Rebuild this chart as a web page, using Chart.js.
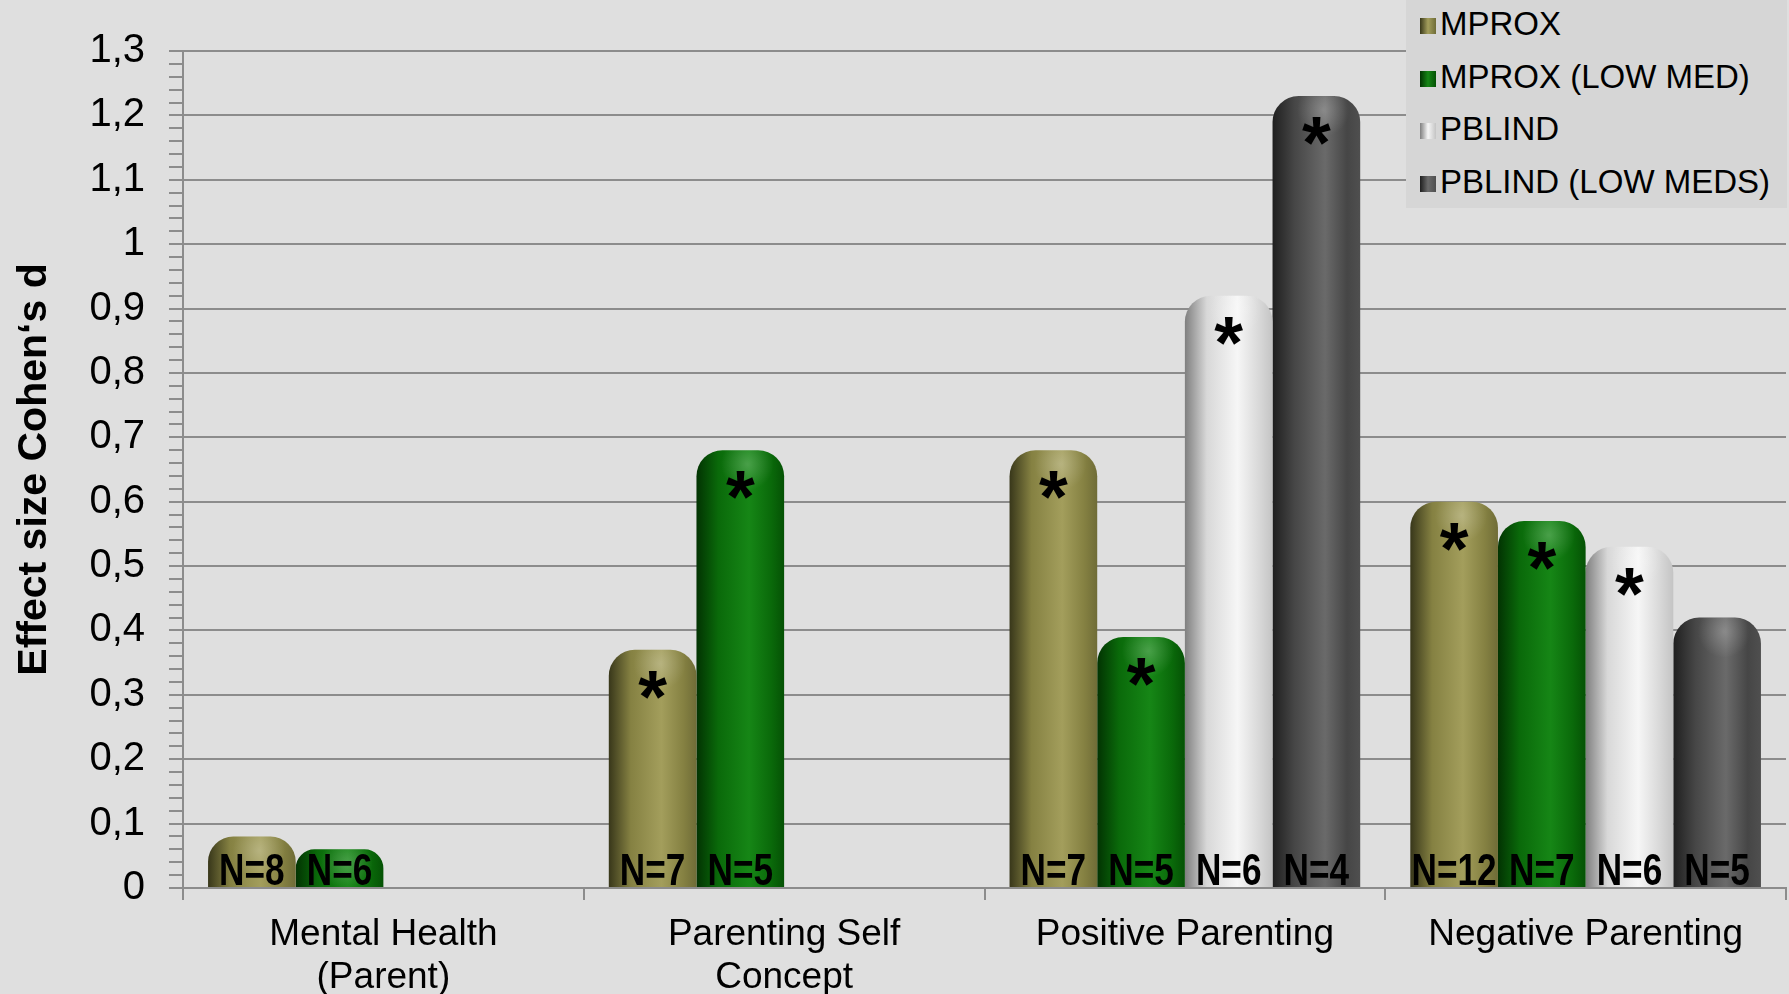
<!DOCTYPE html>
<html lang="en">
<head>
    <meta charset="UTF-8">
    <title>Effect size Cohen's d</title>
    <script src="https://cdn.jsdelivr.net/npm/chart.js"></script>
    <style>
        body {
            margin: 0;
            background: #dfdfdf;
            font-family: "Liberation Sans", Arial, sans-serif;
            overflow: hidden;
        }
        #wrap {
            position: relative;
            width: 1789px;
            height: 994px;
        }
        #legend {
            position: absolute;
            left: 1406px;
            top: 0;
            width: 381px;
            height: 208px;
            background: #d6d6d6;
        }
        .item {
            position: absolute;
            left: 14px;
            font-size: 33px;
            line-height: 36px;
            color: #000;
            white-space: nowrap;
        }
        .item span {
            display: inline-block;
            width: 16px;
            height: 16px;
            margin-right: 4px;
            vertical-align: 1px;
        }
    </style>
</head>
<body>
<div id="wrap">
    <canvas id="effectChart" width="1789" height="994"></canvas>
    <div id="legend"></div>
</div>

<script>
    const categories = [["Mental Health", "(Parent)"], ["Parenting Self", "Concept"], "Positive Parenting", "Negative Parenting"];
    const seriesNames = ["MPROX", "MPROX (LOW MED)", "PBLIND", "PBLIND (LOW MEDS)"];

    const mprox = [0.08, 0.37, 0.68, 0.60];
    const mproxLowMed = [0.06, 0.68, 0.39, 0.57];
    const pblind = [null, null, 0.92, 0.53];
    const pblindLowMeds = [null, null, 1.23, 0.42];

    const mproxN = ["N=8", "N=7", "N=7", "N=12"];
    const mproxLowMedN = ["N=6", "N=5", "N=5", "N=7"];
    const pblindN = [null, null, "N=6", "N=6"];
    const pblindLowMedsN = [null, null, "N=4", "N=5"];

    const mproxSig = [false, true, true, true];
    const mproxLowMedSig = [false, true, true, true];
    const pblindSig = [false, false, true, true];
    const pblindLowMedsSig = [false, false, true, false];

    const yTicks = { min: 0, max: 1.3, major: 0.1, minor: 0.02 };

    // cylinder shading: left edge, body, highlight, right edge
    const shades = [
        ["#38371a", "#858142", "#a39e5c", "#6f6c37"],
        ["#023302", "#0a6a0a", "#168616", "#055205"],
        ["#7f7f7f", "#d8d8d8", "#f6f6f6", "#c4c4c4"],
        ["#1f1f1f", "#464646", "#6a6a6a", "#4f4f4f"]
    ];

    const values = [mprox, mproxLowMed, pblind, pblindLowMeds];
    const nLabels = [mproxN, mproxLowMedN, pblindN, pblindLowMedsN];
    const sigs = [mproxSig, mproxLowMedSig, pblindSig, pblindLowMedsSig];

    // legend
    const legend = document.getElementById("legend");
    seriesNames.forEach((name, i) => {
        const div = document.createElement("div");
        div.className = "item";
        div.style.top = (6 + i * 52.5) + "px";
        const s = shades[i];
        div.innerHTML = `<span style="background: linear-gradient(90deg, ${s[0]}, ${s[2]} 50%, ${s[3]})"></span>${name}`;
        legend.appendChild(div);
    });

    const cylinderPlugin = {
        id: "cylinder",
        beforeDatasetsDraw(chart) {
            const ctx = chart.ctx;
            chart.data.datasets.forEach((ds, i) => {
                const s = shades[i];
                chart.getDatasetMeta(i).data.forEach(bar => {
                    if (!bar.width) return;
                    const g = ctx.createLinearGradient(bar.x - bar.width / 2, 0, bar.x + bar.width / 2, 0);
                    g.addColorStop(0, s[0]);
                    g.addColorStop(0.25, s[1]);
                    g.addColorStop(0.6, s[2]);
                    g.addColorStop(0.85, s[1]);
                    g.addColorStop(1, s[3]);
                    bar.options.backgroundColor = g;
                });
            });
        },
        afterDatasetsDraw(chart) {
            const ctx = chart.ctx;
            const zero = chart.scales.y.getPixelForValue(0);
            ctx.save();
            ctx.fillStyle = "#000";
            ctx.textAlign = "center";
            ctx.textBaseline = "alphabetic";
            chart.data.datasets.forEach((ds, i) => {
                chart.getDatasetMeta(i).data.forEach((bar, j) => {
                    if (values[i][j] == null) return;
                    // soft highlight on the rounded top
                    const hx = bar.x + bar.width * 0.08, hy = bar.y + 14;
                    const r = ctx.createRadialGradient(hx, hy, 0, hx, hy, bar.width * 0.3);
                    r.addColorStop(0, "rgba(255,255,255,0.22)");
                    r.addColorStop(1, "rgba(255,255,255,0)");
                    ctx.fillStyle = r;
                    ctx.fillRect(bar.x - bar.width / 2, bar.y, bar.width, Math.min(40, bar.height));
                    ctx.fillStyle = "#000";
                    if (nLabels[i][j]) {
                        ctx.save();
                        ctx.translate(bar.x, zero - 3);
                        ctx.scale(0.8, 1);
                        ctx.font = "bold 44px 'Liberation Sans', Arial, sans-serif";
                        ctx.fillText(nLabels[i][j], 0, 0);
                        ctx.restore();
                    }
                    if (sigs[i][j]) {
                        ctx.font = "bold 74px 'Liberation Sans', Arial, sans-serif";
                        ctx.fillText("*", bar.x, bar.y + 72);
                    }
                });
            });
            ctx.restore();
        }
    };

    const isMajor = v => Math.round(v * 50) % 5 === 0;
    const fmt = v => String(Number(v.toFixed(1))).replace(".", ",");

    Chart.defaults.font.family = "'Liberation Sans', Arial, sans-serif";
    Chart.defaults.color = "#000";

    new Chart(document.getElementById("effectChart"), {
        type: "bar",
        data: {
            labels: categories,
            datasets: seriesNames.map((name, i) => ({
                label: name,
                data: values[i],
                backgroundColor: () => shades[i][1],
                borderWidth: 0,
                borderRadius: { topLeft: 26, topRight: 26, bottomLeft: 0, bottomRight: 0 },
                borderSkipped: "start",
                categoryPercentage: 0.875,
                barPercentage: 1
            }))
        },
        options: {
            responsive: false,
            animation: false,
            devicePixelRatio: 1,
            layout: { padding: { top: 51, right: 3, left: 0, bottom: 0 } },
            plugins: {
                legend: { display: false },
                tooltip: { enabled: false }
            },
            scales: {
                x: {
                    grid: {
                        offset: true,
                        drawOnChartArea: false,
                        color: "#8c8c8c",
                        lineWidth: 2,
                        tickLength: 12
                    },
                    border: { color: "#8c8c8c", width: 2 },
                    ticks: {
                        font: { size: 37, lineHeight: 1.17 },
                        padding: 13,
                        maxRotation: 0,
                        autoSkip: false
                    },
                    afterFit: scale => { scale.height = 106; }
                },
                y: {
                    min: yTicks.min,
                    max: yTicks.max,
                    grid: {
                        color: c => isMajor(c.tick.value) ? "#8c8c8c" : "rgba(0,0,0,0)",
                        tickColor: "#8c8c8c",
                        lineWidth: 2,
                        tickLength: 14
                    },
                    border: { color: "#8c8c8c", width: 2 },
                    ticks: {
                        stepSize: yTicks.minor,
                        autoSkip: false,
                        padding: 24,
                        font: { size: 40 },
                        callback: v => isMajor(v) ? fmt(v) : ""
                    },
                    title: {
                        display: true,
                        text: "Effect size Cohen‘s d",
                        font: { size: 41, weight: "bold" },
                        padding: { top: 10, bottom: 0 }
                    },
                    afterFit: scale => { scale.width = 183; }
                }
            }
        },
        plugins: [cylinderPlugin]
    });
</script>
</body>
</html>
